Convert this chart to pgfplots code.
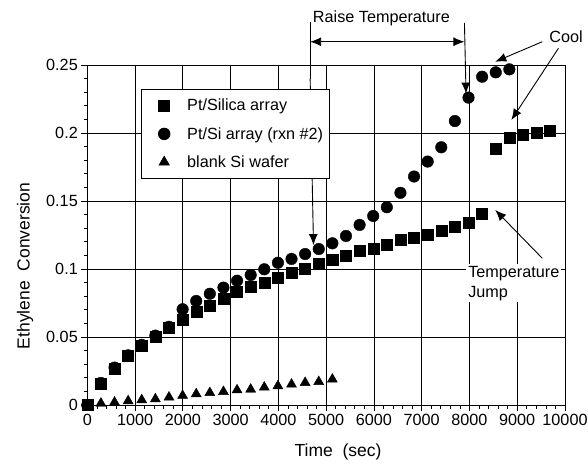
\documentclass[border=0pt]{standalone}
\usepackage{fontspec}
\setmainfont{Liberation Sans}
\usepackage{pgfplots}
\usepackage{pgfplotstable}
\pgfplotsset{compat=1.18}
\usetikzlibrary{arrows.meta}

% time (s) and ethylene conversion
\pgfplotstableread{
t y
0 0
285 0.0159
570 0.0270
855 0.0360
1140 0.0436
1425 0.0505
1710 0.0565
1995 0.0625
2280 0.0684
2565 0.0733
2850 0.0783
3135 0.0832
3420 0.0872
3705 0.0902
3990 0.0938
4275 0.0971
4560 0.1005
4845 0.1037
5130 0.1066
5415 0.1095
5700 0.1132
5985 0.1147
6270 0.1181
6555 0.1213
6840 0.1230
7125 0.1255
7410 0.1282
7695 0.1311
7980 0.1340
8265 0.1410
8550 0.1888
8835 0.1966
9120 0.1985
9405 0.2005
9690 0.2017
}\silica

\pgfplotstableread{
t y
0 0
285 0.0162
570 0.0275
855 0.0365
1140 0.0442
1425 0.0510
1710 0.0575
1995 0.0704
2280 0.0765
2565 0.0818
2850 0.0863
3135 0.0914
3420 0.0956
3705 0.0998
3990 0.1046
4275 0.1074
4560 0.1110
4845 0.1147
5130 0.1189
5415 0.1243
5700 0.1324
5985 0.1390
6270 0.1454
6555 0.1560
6840 0.1680
7125 0.1790
7410 0.1895
7695 0.2088
7980 0.2260
8265 0.2414
8550 0.2446
8835 0.2468
}\ptsi

\pgfplotstableread{
t y
0 0
285 0.0012
570 0.0020
855 0.0030
1140 0.0037
1425 0.0044
1710 0.0057
1995 0.0069
2280 0.0081
2565 0.0090
2850 0.0098
3135 0.0110
3420 0.0115
3705 0.0130
3990 0.0140
4275 0.0152
4560 0.0164
4845 0.0171
5130 0.0189
}\blank

\begin{document}
\begin{tikzpicture}
\begin{axis}[
  at={(0pt,0pt)}, anchor=south west,
  scale only axis, width=477.7pt, height=340pt,
  xmin=0, xmax=10000, ymin=0, ymax=0.25,
  scaled x ticks=false, scaled y ticks=false,
  xtick={0,1000,...,10000},
  xticklabels={0,1000,2000,3000,4000,5000,6000,7000,8000,9000,10000},
  ytick={0,0.05,0.1,0.15,0.2,0.25},
  yticklabels={0,0.05,0.1,0.15,0.2,0.25},
  minor x tick num=4, minor y tick num=4,
  xtick pos=bottom, ytick pos=left,
  tick align=outside, major tick length=6pt, minor tick length=3.5pt,
  tick style={black, line width=0.7pt},
  grid=major, grid style={black, line width=0.7pt},
  axis line style={line width=1pt},
  ticklabel style={font=\fontsize{16.2}{19}\selectfont},
  /pgf/number format/assume math mode=true,
  xlabel={Time\ \ (sec)},
  ylabel={Ethylene\ \ Conversion},
  label style={font=\fontsize{17.5}{20}\selectfont},
  xlabel style={at={(axis description cs:0.525,-0.138)}, anchor=center},
  ylabel style={at={(axis description cs:-0.130,0.409)}, anchor=center},
  clip=false,
  legend style={at={(0.112,0.929)}, anchor=north west, draw=black, fill=white,
    line width=0.8pt, font=\fontsize{16.2}{19}\selectfont,
    row sep=0pt, inner xsep=4pt, inner ysep=2pt,
    nodes={inner ysep=7.5pt}},
  legend cell align=left,
  legend image code/.code={%
    \path[draw=none] (0pt,0pt) -- (40pt,0pt);
    \draw[#1] plot coordinates {(19pt,0pt)};},
]
\addplot[only marks, mark=square*, mark size=5.5pt, black] table[x=t,y=y] {\silica};
\addlegendentry{Pt/Silica array}
\addplot[only marks, mark=*, mark size=5.8pt, black] table[x=t,y=y] {\ptsi};
\addlegendentry{Pt/Si array (rxn \#2)\hspace{4pt}}
\addplot[only marks, mark=triangle*, mark size=5.8pt, black] table[x=t,y=y] {\blank};
\addlegendentry{blank Si wafer}

% annotations
\node[anchor=west, font=\fontsize{16.2}{19}\selectfont, inner sep=0pt] at (4720,0.2846) {Raise Temperature};
\draw[line width=0.9pt] (4665,0.2816) -- (4665,0.240);
\draw[line width=0.9pt, -{Latex[length=11pt,width=9pt]}] (4665,0.240) -- (4735,0.1176);
\draw[line width=0.9pt, -{Latex[length=11pt,width=9pt]}] (7895,0.2809) -- (7928,0.229);
\draw[line width=0.9pt, {Latex[length=11pt,width=9pt]}-{Latex[length=11pt,width=9pt]}] (4665,0.2671) -- (7895,0.2671);

\node[font=\fontsize{16.2}{19}\selectfont, inner sep=0pt] at (10020,0.2709) {Cool};
\draw[line width=0.9pt, -{Latex[length=11pt,width=9pt]}] (9524,0.2671) -- (8540,0.2524);
\draw[line width=0.9pt, -{Latex[length=11pt,width=9pt]}] (9863,0.2623) -- (8878,0.2096);

\node[anchor=west, align=left, fill=white, inner xsep=2pt, inner ysep=2pt,
  font=\fontsize{16.2}{20}\selectfont] at (7930,0.0896) {Temperature\\Jump};
\draw[line width=0.9pt, -{Latex[length=11pt,width=9pt]}] (9524,0.1079) -- (8540,0.1434);
\end{axis}
\pgfresetboundingbox
\path (-87.3pt,-58pt) rectangle (500.7pt,405pt);
\end{tikzpicture}
\end{document}
